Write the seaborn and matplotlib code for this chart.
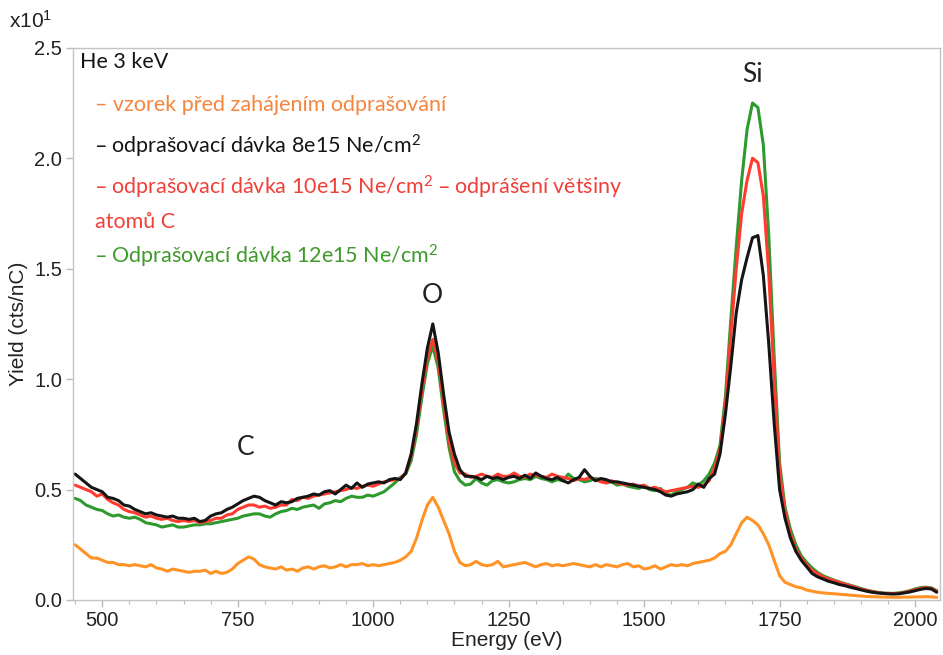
import matplotlib

matplotlib.use("Agg")
import matplotlib.pyplot as plt  # noqa: E402
from matplotlib.ticker import MultipleLocator, FormatStrFormatter  # noqa: E402
import numpy as np  # noqa: E402
import pandas as pd  # noqa: E402
import seaborn as sns  # noqa: E402

# --------------------------------------------------------------------------- #
# Data (yield in units of 10 cts/nC), 10 eV steps        #
# --------------------------------------------------------------------------- #
energy = np.arange(450, 2041, 10)

pristine = [
    0.25, 0.23, 0.21, 0.19, 0.19, 0.18, 0.17, 0.17, 0.16, 0.16,
    0.155, 0.16, 0.155, 0.15, 0.16, 0.145, 0.14, 0.13, 0.14, 0.135,
    0.13, 0.125, 0.13, 0.13, 0.135, 0.12, 0.13, 0.12, 0.125, 0.14,
    0.165, 0.18, 0.195, 0.185, 0.16, 0.15, 0.145, 0.14, 0.15, 0.135,
    0.14, 0.13, 0.145, 0.15, 0.14, 0.15, 0.155, 0.145, 0.15, 0.16,
    0.15, 0.16, 0.16, 0.165, 0.155, 0.16, 0.155, 0.16, 0.165, 0.17,
    0.18, 0.195, 0.22, 0.28, 0.36, 0.43, 0.465, 0.42, 0.36, 0.30,
    0.22, 0.17, 0.155, 0.16, 0.175, 0.16, 0.155, 0.16, 0.175, 0.15,
    0.155, 0.16, 0.165, 0.17, 0.16, 0.15, 0.16, 0.165, 0.155, 0.16,
    0.155, 0.16, 0.165, 0.16, 0.155, 0.15, 0.16, 0.15, 0.16, 0.155,
    0.15, 0.16, 0.165, 0.15, 0.155, 0.14, 0.145, 0.155, 0.14, 0.15,
    0.16, 0.155, 0.16, 0.155, 0.165, 0.17, 0.175, 0.18, 0.19, 0.21,
    0.22, 0.25, 0.30, 0.35, 0.375, 0.36, 0.34, 0.30, 0.25, 0.18,
    0.11, 0.08, 0.07, 0.06, 0.055, 0.045, 0.04, 0.035, 0.032, 0.03,
    0.028, 0.026, 0.024, 0.022, 0.02, 0.018, 0.016, 0.015, 0.014, 0.013,
    0.013, 0.012, 0.012, 0.013, 0.013, 0.014, 0.014, 0.015, 0.014, 0.012,
]

dose_8e15 = [
    0.57, 0.55, 0.53, 0.51, 0.50, 0.49, 0.465, 0.46, 0.45, 0.43,
    0.425, 0.41, 0.40, 0.39, 0.395, 0.385, 0.38, 0.375, 0.38, 0.37,
    0.37, 0.365, 0.37, 0.355, 0.36, 0.38, 0.39, 0.395, 0.41, 0.42,
    0.435, 0.45, 0.46, 0.47, 0.465, 0.45, 0.44, 0.43, 0.445, 0.44,
    0.445, 0.46, 0.465, 0.47, 0.48, 0.475, 0.49, 0.495, 0.48, 0.50,
    0.52, 0.505, 0.53, 0.51, 0.525, 0.53, 0.535, 0.53, 0.545, 0.55,
    0.545, 0.575, 0.66, 0.80, 0.98, 1.14, 1.25, 1.12, 0.93, 0.76,
    0.66, 0.59, 0.56, 0.56, 0.555, 0.545, 0.56, 0.55, 0.555, 0.545,
    0.555, 0.56, 0.55, 0.565, 0.55, 0.575, 0.56, 0.55, 0.545, 0.555,
    0.54, 0.53, 0.545, 0.555, 0.59, 0.56, 0.54, 0.55, 0.545, 0.535,
    0.535, 0.53, 0.525, 0.52, 0.515, 0.51, 0.505, 0.50, 0.49, 0.475,
    0.47, 0.48, 0.485, 0.49, 0.50, 0.525, 0.51, 0.55, 0.57, 0.66,
    0.84, 1.06, 1.30, 1.45, 1.55, 1.64, 1.65, 1.47, 1.16, 0.80,
    0.50, 0.37, 0.28, 0.22, 0.18, 0.15, 0.12, 0.105, 0.095, 0.085,
    0.078, 0.07, 0.065, 0.058, 0.052, 0.046, 0.04, 0.035, 0.032, 0.03,
    0.028, 0.027, 0.028, 0.032, 0.036, 0.042, 0.048, 0.052, 0.05, 0.035,
]

dose_10e15 = [
    0.52, 0.51, 0.50, 0.49, 0.47, 0.48, 0.455, 0.44, 0.43, 0.41,
    0.40, 0.395, 0.385, 0.375, 0.38, 0.37, 0.365, 0.37, 0.36, 0.355,
    0.36, 0.355, 0.36, 0.35, 0.355, 0.36, 0.37, 0.37, 0.385, 0.39,
    0.41, 0.42, 0.43, 0.43, 0.42, 0.425, 0.415, 0.42, 0.43, 0.43,
    0.455, 0.45, 0.465, 0.46, 0.47, 0.475, 0.48, 0.485, 0.49, 0.495,
    0.50, 0.51, 0.505, 0.515, 0.52, 0.515, 0.525, 0.535, 0.54, 0.545,
    0.55, 0.575, 0.65, 0.78, 0.95, 1.10, 1.18, 1.08, 0.89, 0.72,
    0.62, 0.575, 0.57, 0.555, 0.56, 0.57, 0.56, 0.555, 0.57, 0.56,
    0.56, 0.575, 0.56, 0.555, 0.57, 0.565, 0.56, 0.555, 0.57, 0.56,
    0.555, 0.55, 0.54, 0.55, 0.545, 0.555, 0.545, 0.535, 0.53, 0.54,
    0.53, 0.525, 0.52, 0.525, 0.515, 0.52, 0.505, 0.51, 0.50, 0.49,
    0.495, 0.50, 0.505, 0.51, 0.515, 0.51, 0.52, 0.54, 0.60, 0.68,
    0.88, 1.20, 1.50, 1.75, 1.90, 2.00, 1.98, 1.83, 1.48, 1.00,
    0.58, 0.40, 0.30, 0.23, 0.19, 0.16, 0.135, 0.12, 0.105, 0.095,
    0.088, 0.08, 0.072, 0.065, 0.057, 0.05, 0.044, 0.038, 0.034, 0.03,
    0.03, 0.029, 0.03, 0.034, 0.04, 0.046, 0.052, 0.056, 0.052, 0.04,
]

dose_12e15 = [
    0.46, 0.45, 0.43, 0.42, 0.41, 0.405, 0.39, 0.38, 0.385, 0.375,
    0.37, 0.375, 0.365, 0.35, 0.345, 0.34, 0.33, 0.335, 0.34, 0.33,
    0.33, 0.335, 0.34, 0.34, 0.345, 0.345, 0.35, 0.355, 0.36, 0.365,
    0.37, 0.38, 0.385, 0.39, 0.39, 0.38, 0.375, 0.39, 0.40, 0.405,
    0.415, 0.41, 0.42, 0.425, 0.43, 0.415, 0.435, 0.44, 0.45, 0.445,
    0.46, 0.47, 0.465, 0.465, 0.475, 0.47, 0.48, 0.49, 0.51, 0.53,
    0.555, 0.57, 0.63, 0.75, 0.92, 1.07, 1.15, 1.05, 0.86, 0.69,
    0.58, 0.54, 0.52, 0.525, 0.55, 0.53, 0.52, 0.54, 0.545, 0.535,
    0.53, 0.535, 0.545, 0.55, 0.545, 0.56, 0.55, 0.545, 0.535, 0.545,
    0.54, 0.57, 0.55, 0.545, 0.535, 0.54, 0.55, 0.545, 0.53, 0.535,
    0.52, 0.525, 0.515, 0.51, 0.505, 0.515, 0.50, 0.495, 0.505, 0.48,
    0.475, 0.49, 0.50, 0.51, 0.53, 0.52, 0.54, 0.57, 0.62, 0.70,
    0.92, 1.27, 1.60, 1.90, 2.13, 2.25, 2.23, 2.06, 1.65, 1.10,
    0.62, 0.42, 0.32, 0.25, 0.20, 0.17, 0.145, 0.125, 0.11, 0.10,
    0.09, 0.082, 0.074, 0.067, 0.06, 0.052, 0.045, 0.04, 0.035, 0.032,
    0.03, 0.03, 0.032, 0.036, 0.042, 0.05, 0.056, 0.058, 0.055, 0.042,
]

series = ["pristine", "12e15", "10e15", "8e15"]
line_colors = {"pristine": "#FF9326", "12e15": "#2E9A2E",
               "10e15": "#FF3B2F", "8e15": "#151515"}

df = pd.concat([
    pd.DataFrame({"energy": energy, "yield": pristine, "sample": "pristine"}),
    pd.DataFrame({"energy": energy, "yield": dose_12e15, "sample": "12e15"}),
    pd.DataFrame({"energy": energy, "yield": dose_10e15, "sample": "10e15"}),
    pd.DataFrame({"energy": energy, "yield": dose_8e15, "sample": "8e15"}),
])

sns.set_theme(style="white")
plt.rcParams["font.family"] = ["Liberation Sans", "DejaVu Sans"]
plt.rcParams["mathtext.default"] = "regular"
plt.rcParams["lines.solid_joinstyle"] = "round"

fig = plt.figure(figsize=(9.43, 6.55), dpi=100)
ax = fig.add_axes([0.0774, 0.084, 0.9194, 0.843])

sns.lineplot(data=df, x="energy", y="yield", hue="sample", hue_order=series,
             palette=line_colors, linewidth=2.2, legend=False, ax=ax, sort=False)

ax.set_xlim(446, 2046)
ax.set_ylim(0, 2.5)
ax.xaxis.set_major_locator(MultipleLocator(250))
ax.xaxis.set_minor_locator(MultipleLocator(50))
ax.yaxis.set_major_locator(MultipleLocator(0.5))
ax.yaxis.set_major_formatter(FormatStrFormatter("%.1f"))
for s in ax.spines.values():
    s.set_color("#C4C4C4")
    s.set_linewidth(1.0)
ax.tick_params(axis="both", which="both", direction="out", color="#BBBBBB",
               labelsize=14.5, labelcolor="#222222")
ax.tick_params(axis="both", which="major", length=5, width=1, left=True, bottom=True, pad=3)
ax.tick_params(axis="x", which="minor", length=3, width=0.8, bottom=True)

ax.set_xlabel("Energy (eV)", fontsize=15, color="#222222", labelpad=1)
ax.set_ylabel("Yield (cts/nC)", fontsize=15, color="#222222", labelpad=4)
fig.text(0.010, 0.968, "x10$^1$", fontsize=15, color="#222222", va="center")

# peak labels
lab = dict(fontsize=19, color="#222222", ha="center", va="center",
           family=["Lato", "DejaVu Sans"])
ax.text(765, 0.69, "C", **lab)
ax.text(1110, 1.38, "O", **lab)
ax.text(1700, 2.38, "Si", **lab)

# annotation block in the upper-left corner
txt = dict(fontsize=15.5, transform=ax.transAxes, va="center", ha="left",
           family=["Lato", "DejaVu Sans"])
ax.text(0.008, 0.974, "He 3 keV", color="#151515", **txt)
ax.text(0.025, 0.897, "– vzorek před zahájením odprašování", color="#F5853D", **txt)
ax.text(0.025, 0.822, "– odprašovací dávka 8e15 Ne/cm$^2$", color="#151515", **txt)
ax.text(0.025, 0.748, "– odprašovací dávka 10e15 Ne/cm$^2$ – odprášení většiny",
        color="#F0403A", **txt)
ax.text(0.025, 0.685, "atomů C", color="#F0403A", **txt)
ax.text(0.025, 0.622, "– Odprašovací dávka 12e15 Ne/cm$^2$", color="#3E9A2A", **txt)

fig.savefig("out.png", dpi=100)
